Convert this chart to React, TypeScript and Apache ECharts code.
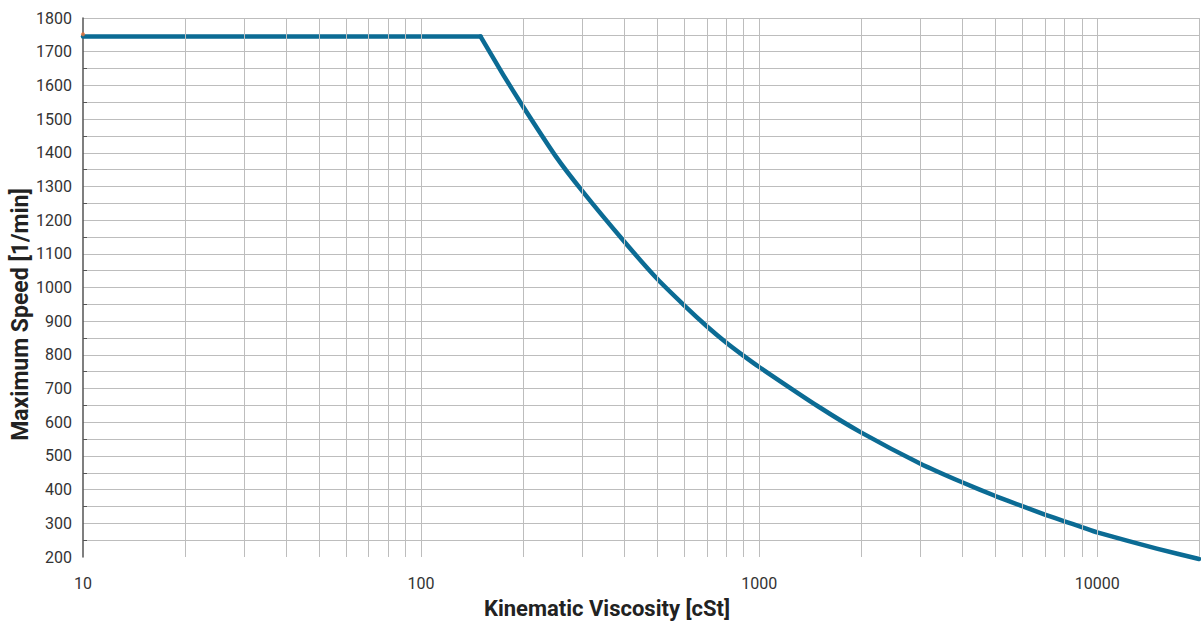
import React, { useEffect, useRef } from "react";
import * as echarts from "echarts";

// Kinematic viscosity [cSt] vs maximum speed [1/min]
const flatViscosity = [10, 150];
const flatSpeed = [1745, 1745];
const curveViscosity = [150, 175, 200, 250, 300, 400, 500, 600, 700, 800, 900, 1000, 1500, 2000, 3000, 4000, 5000, 6000, 7000, 8000, 9000, 10000, 15000, 20000];
const curveSpeed = [1745, 1631, 1538, 1390, 1286, 1135, 1025, 947, 885, 836, 797, 764, 646, 570, 477, 421, 381, 351, 326, 306, 289, 273, 225, 194];
const startMarker = [[10, 1752]];
const verticalGridValues = [
  20, 30, 40, 50, 60, 70, 80, 90, 100,
  200, 300, 400, 500, 600, 700, 800, 900, 1000,
  2000, 3000, 4000, 5000, 6000, 7000, 8000, 9000, 10000, 20000,
];
const xAxisName = "Kinematic Viscosity [cSt]";
const yAxisName = "Maximum Speed [1/min]";

const GRID_COLOR = "#bdbdbd";
const LINE_COLOR = "#0b6b94";
const FONT = "Roboto, 'Noto Sans', sans-serif";

export default function App() {
  const ref = useRef<HTMLDivElement>(null);
  useEffect(() => {
    document.body.style.margin = "0";
    if (!ref.current) return;
    const chart = echarts.init(ref.current, null, { renderer: "svg" });
    chart.setOption({
      animation: false,
      backgroundColor: "#ffffff",
      grid: { left: 83, right: 2, top: 18, bottom: 67, containLabel: false, outerBoundsMode: "none" },
      xAxis: {
        type: "log",
        logBase: 10,
        min: 10,
        max: 20000,
        name: xAxisName,
        nameLocation: "middle",
        nameGap: 40,
        nameMoveOverlap: false,
        nameTextStyle: {
          fontFamily: FONT,
          fontSize: 22,
          fontWeight: "bold",
          color: "#222",
          padding: [0, 68, 0, 0],
        },
        axisLine: { show: false },
        axisTick: { show: false },
        splitLine: { show: false },
        axisLabel: {
          fontFamily: FONT,
          fontSize: 16,
          color: "#333",
          margin: 18,
          showMaxLabel: false,
          formatter: (v: number) => String(Math.round(v)),
        },
      },
      yAxis: {
        type: "value",
        min: 200,
        max: 1800,
        interval: 100,
        name: yAxisName,
        nameLocation: "middle",
        nameGap: 51,
        nameMoveOverlap: false,
        nameTextStyle: {
          fontFamily: FONT,
          fontSize: 23,
          fontWeight: "bold",
          color: "#222",
          padding: [0, 54, 0, 0],
        },
        axisLine: { show: true, lineStyle: { color: "#555", width: 1.5 } },
        axisTick: { show: false, inside: true },
        minorTick: { show: true, splitNumber: 2, length: 4, lineStyle: { color: "#555", width: 1 } },
        splitLine: { show: true, showMinLine: false, lineStyle: { color: GRID_COLOR, width: 1 } },
        minorSplitLine: { show: true, lineStyle: { color: GRID_COLOR, width: 1 } },
        axisLabel: {
          fontFamily: FONT,
          fontSize: 16,
          color: "#333",
          margin: 11,
          formatter: (v: number) => String(v),
        },
      },
      series: [
        {
          type: "line",
          name: "grid",
          data: [],
          z: 1,
          silent: true,
          symbol: "none",
          markLine: {
            silent: true,
            symbol: "none",
            animation: false,
            label: { show: false },
            lineStyle: { color: GRID_COLOR, width: 1, type: "solid" },
            data: verticalGridValues.map((v) => ({ xAxis: v })),
          },
        },
        {
          type: "line",
          data: flatViscosity.map((v, i) => [v, flatSpeed[i]]),
          symbol: "none",
          z: 3,
          lineStyle: { color: LINE_COLOR, width: 4.5, cap: "round", join: "round" },
        },
        {
          type: "line",
          data: curveViscosity.map((v, i) => [v, curveSpeed[i]]),
          symbol: "none",
          smooth: 0.15,
          clip: false,
          z: 3,
          lineStyle: { color: LINE_COLOR, width: 4.5, cap: "round", join: "round" },
        },
        {
          type: "scatter",
          data: startMarker,
          symbolSize: 4,
          itemStyle: { color: "#e8743b" },
          z: 4,
          silent: true,
        },
      ],
    });
    return () => chart.dispose();
  }, []);
  return <div ref={ref} style={{ width: 1201, height: 624 }} />;
}
